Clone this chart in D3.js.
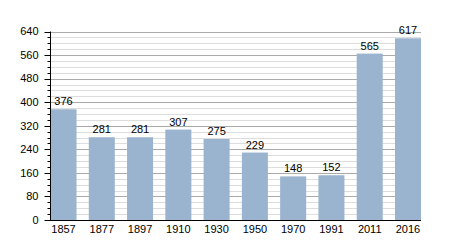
<!DOCTYPE html>
<html>
<head>
<meta charset="utf-8">
<script src="https://cdn.jsdelivr.net/npm/d3@7"></script>
<style>
  body { margin: 0; background: #fff; }
  text { font-family: "Liberation Sans", Arial, sans-serif; }
</style>
</head>
<body>
<script>
const years = ['1857', '1877', '1897', '1910', '1930', '1950', '1970', '1991', '2011', '2016'];
const population = [376, 281, 281, 307, 275, 229, 148, 152, 565, 617];
const majorTicks = [0, 80, 160, 240, 320, 400, 480, 560, 640];
const minorTicks = d3.range(0, 641, 20);

const svg = d3.select('body').append('svg')
  .attr('width', 450)
  .attr('height', 250);

const x = d3.scaleBand()
  .domain(years)
  .range([50.5, 421])
  .paddingInner(0.32)
  .paddingOuter(0);

const y = d3.scaleLinear()
  .domain([0, 640])
  .range([220, 31.5]);

// minor grid
svg.append('g')
  .selectAll('line')
  .data(minorTicks.filter(d => d % 80 !== 0))
  .join('line')
  .attr('x1', 50).attr('x2', 421)
  .attr('y1', d => Math.round(y(d)) + 0.5)
  .attr('y2', d => Math.round(y(d)) + 0.5)
  .attr('stroke', '#dddddd')
  .attr('stroke-width', 1);

// major grid
svg.append('g')
  .selectAll('line')
  .data(majorTicks.filter(d => d > 0))
  .join('line')
  .attr('x1', 50).attr('x2', 421)
  .attr('y1', d => Math.round(y(d)) + 0.5)
  .attr('y2', d => Math.round(y(d)) + 0.5)
  .attr('stroke', '#aaaaaa')
  .attr('stroke-width', 1);

// bars
svg.append('g')
  .selectAll('rect')
  .data(years)
  .join('rect')
  .attr('x', d => x(d))
  .attr('y', (d, i) => y(population[i]))
  .attr('width', x.bandwidth())
  .attr('height', (d, i) => y(0) - y(population[i]))
  .attr('fill', '#9ab4cf');

// value labels
svg.append('g')
  .selectAll('text')
  .data(years)
  .join('text')
  .attr('x', d => x(d) + x.bandwidth() / 2)
  .attr('y', (d, i) => y(population[i]) - 4)
  .attr('text-anchor', 'middle')
  .attr('font-size', 11)
  .attr('fill', '#000')
  .text((d, i) => population[i]);

// y axis
const yAxis = svg.append('g').attr('transform', 'translate(50.5,0)');
yAxis.append('line')
  .attr('y1', y(640)).attr('y2', y(0))
  .attr('stroke', '#000');
yAxis.selectAll('.minor')
  .data(minorTicks)
  .join('line')
  .attr('class', 'minor')
  .attr('x1', -3).attr('x2', 0)
  .attr('y1', d => Math.round(y(d)) + 0.5)
  .attr('y2', d => Math.round(y(d)) + 0.5)
  .attr('stroke', '#000');
yAxis.selectAll('.major')
  .data(majorTicks)
  .join('line')
  .attr('class', 'major')
  .attr('x1', -6).attr('x2', 0)
  .attr('y1', d => Math.round(y(d)) + 0.5)
  .attr('y2', d => Math.round(y(d)) + 0.5)
  .attr('stroke', '#000');
yAxis.selectAll('text')
  .data(majorTicks)
  .join('text')
  .attr('x', -12)
  .attr('y', d => y(d))
  .attr('dy', '0.35em')
  .attr('text-anchor', 'end')
  .attr('font-size', 11)
  .text(d => d);

// x axis
const xAxis = svg.append('g');
xAxis.append('line')
  .attr('x1', 50).attr('x2', 421)
  .attr('y1', 220.5).attr('y2', 220.5)
  .attr('stroke', '#000');
xAxis.selectAll('text')
  .data(years)
  .join('text')
  .attr('x', d => x(d) + x.bandwidth() / 2)
  .attr('y', 233)
  .attr('text-anchor', 'middle')
  .attr('font-size', 11)
  .text(d => d);
</script>
</body>
</html>
